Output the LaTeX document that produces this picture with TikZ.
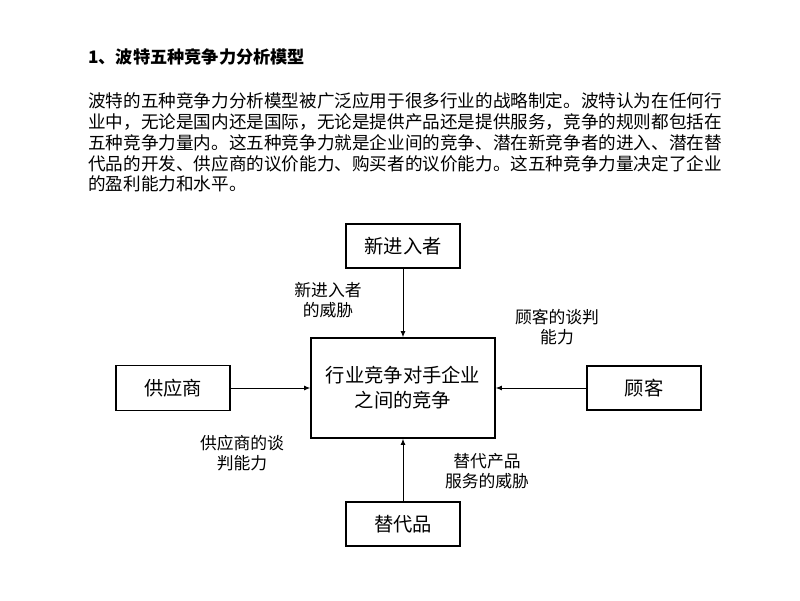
\documentclass[tikz,border=0pt]{standalone}
\usepackage{fontspec}
\setmainfont{Noto Sans CJK SC}
\usetikzlibrary{arrows.meta}

\begin{document}
\begin{tikzpicture}[x=1pt,y=-1pt,
  box/.style={draw, line width=1.8pt, inner sep=0pt, align=center, font=\fontsize{19.3}{25}\selectfont},
  threat/.style={align=center, inner sep=0pt, font=\fontsize{16.8}{20.5}\selectfont},
  textline/.style={anchor=west, inner sep=0pt, font=\fontsize{17.6}{20}\selectfont},
  force/.style={-{Latex[length=6pt,width=5pt]}, line width=0.8pt}]
\useasboundingbox (0,0) rectangle (800,600);
% heading and paragraph
\node[anchor=west, inner sep=0pt, font=\bfseries\fontsize{17.2}{20}\selectfont] (title) at (88,57) {1、波特五种竞争力分析模型};
\foreach \i/\txt in {0/波特的五种竞争力分析模型被广泛应用于很多行业的战略制定。波特认为在任何行,
    1/业中，无论是国内还是国际，无论是提供产品还是提供服务，竞争的规则都包括在,
    2/五种竞争力量内。这五种竞争力就是企业间的竞争、潜在新竞争者的进入、潜在替,
    3/代品的开发、供应商的议价能力、购买者的议价能力。这五种竞争力量决定了企业,
    4/的盈利能力和水平。}
  \node[textline] (line\i) at (88,101+20.8*\i) {\txt};
% five forces
\node[box, minimum width=184pt, minimum height=100pt] (rival) at (403,388) {行业竞争对手企业\\之间的竞争};
\node[box, minimum width=114pt, minimum height=44pt] (entrant) at (403,246) {新进入者};
\node[box, minimum width=114pt, minimum height=45pt] (supplier) at (173,388) {供应商};
\node[box, minimum width=114pt, minimum height=44pt] (buyer) at (644,388) {顾客};
\node[box, minimum width=114pt, minimum height=44pt] (substitute) at (403,524) {替代品};
\draw[force] (entrant) -- (rival);
\draw[force] (supplier) -- (rival);
\draw[force] (buyer) -- (rival);
\draw[force] (substitute) -- (rival);
% labels
\node[threat] (entrantlbl) at (328,300) {新进入者\\的威胁};
\node[threat] (buyerlbl) at (557,327) {顾客的谈判\\能力};
\node[threat] (supplierlbl) at (242,453) {供应商的谈\\判能力};
\node[threat] (substitutelbl) at (487,471) {替代产品\\服务的威胁};
\end{tikzpicture}
\end{document}
